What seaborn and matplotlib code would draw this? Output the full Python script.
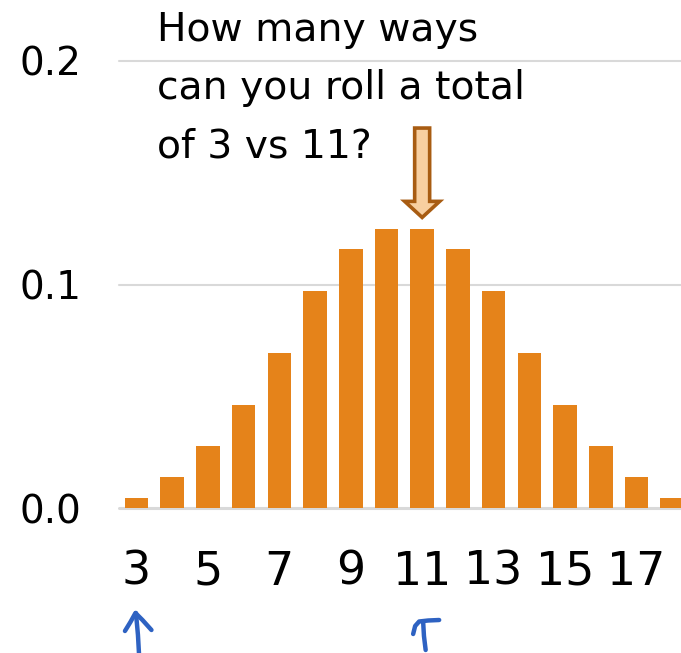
import numpy as np
import pandas as pd
import matplotlib
matplotlib.use("Agg")
import matplotlib.pyplot as plt
from matplotlib.patches import Polygon
from matplotlib.lines import Line2D
import seaborn as sns

# Sum of three dice: totals and number of ways (out of 216)
totals = [3, 4, 5, 6, 7, 8, 9, 10, 11, 12, 13, 14, 15, 16, 17, 18]
ways = [1, 3, 6, 10, 15, 21, 25, 27, 27, 25, 21, 15, 10, 6, 3, 1]
outcomes = 216
probabilities = [w / outcomes for w in ways]

x_ticks = [3, 5, 7, 9, 11, 13, 15, 17]
y_ticks = [0.0, 0.1, 0.2]
question = ["How many ways", "can you roll a total", "of 3 vs 11?"]
compare_a, compare_b = 3, 11

sns.set_theme(style="white")
plt.rcParams["font.family"] = ["DejaVu Sans"]
plt.rcParams["text.color"] = "black"
plt.rcParams["xtick.color"] = "black"
plt.rcParams["ytick.color"] = "black"

W, H = 681, 653
fig = plt.figure(figsize=(W / 100, H / 100), dpi=100)
ax = fig.add_axes([118.6 / W, 145 / H, (690 - 118.6) / W, 447 / H])

df = pd.DataFrame({"total": totals, "p": probabilities})
sns.barplot(data=df, x="total", y="p", native_scale=True, width=0.66,
            color="#E5831A", saturation=1, linewidth=0, ax=ax, zorder=3)

ax.set_xlim(2.5, 18.5)
ax.set_ylim(0, 0.2)
ax.set_xticks(x_ticks)
ax.set_xticklabels([str(t) for t in x_ticks], fontsize=33, color="black")
ax.set_yticks(y_ticks)
ax.set_yticklabels([f"{v:.1f}" for v in y_ticks], fontsize=28, color="black")
ax.tick_params(axis="x", length=0, pad=30)
ax.tick_params(axis="y", length=0, pad=27)
ax.set_xlabel("")
ax.set_ylabel("")
for s in ax.spines.values():
    s.set_visible(False)

# horizontal gridlines and baseline
for v in y_ticks[1:]:
    ax.axhline(v, color="#D9D9D9", lw=1.5, zorder=1, clip_on=False)
ax.axhline(0, color="#D9D9D9", lw=2.2, zorder=1, clip_on=False)

# question text
for line, base in zip(question, [41, 99, 157]):
    fig.text(157 / W, 1 - base / H, line, fontsize=28.3, ha="left",
             va="baseline", color="black")

# block arrow pointing at the total of 11
ppx = 1 / 35.73          # data units per pixel along x
xc = compare_b
top, neck, tip = 0.1700, 0.1372, 0.1300
sw, hw = 7.5 * ppx, 17.5 * ppx
arrow = Polygon([(xc - sw, top), (xc + sw, top), (xc + sw, neck),
                 (xc + hw, neck), (xc, tip), (xc - hw, neck),
                 (xc - sw, neck)], closed=True, facecolor="#F8CFA0",
                edgecolor="#A85C12", lw=2.6, zorder=5, clip_on=False)
ax.add_patch(arrow)

# hand-drawn pointers under the two compared totals
fig.canvas.draw()
blue = "#2E62C2"

def pointer(x_val, strokes):
    x0 = ax.transData.transform((x_val, 0))[0]
    for pts in strokes:
        xs = [(x0 + dx) / W for dx, _ in pts]
        ys = [1 - py / H for _, py in pts]
        fig.add_artist(Line2D(xs, ys, color=blue, lw=3.2,
                              solid_capstyle="round", solid_joinstyle="round"))

pointer(compare_a, [
    [(2.5, 653), (1.5, 635), (-0.5, 613)],
    [(-11.5, 631), (-6, 622), (-1, 613), (6, 620), (15, 630)],
])
pointer(compare_b, [
    [(-9, 634), (-7, 626), (-3, 621.5), (6, 620.5), (17, 620)],
    [(1, 622), (1.8, 636), (3.5, 650)],
])

fig.savefig("out.png", dpi=100)
